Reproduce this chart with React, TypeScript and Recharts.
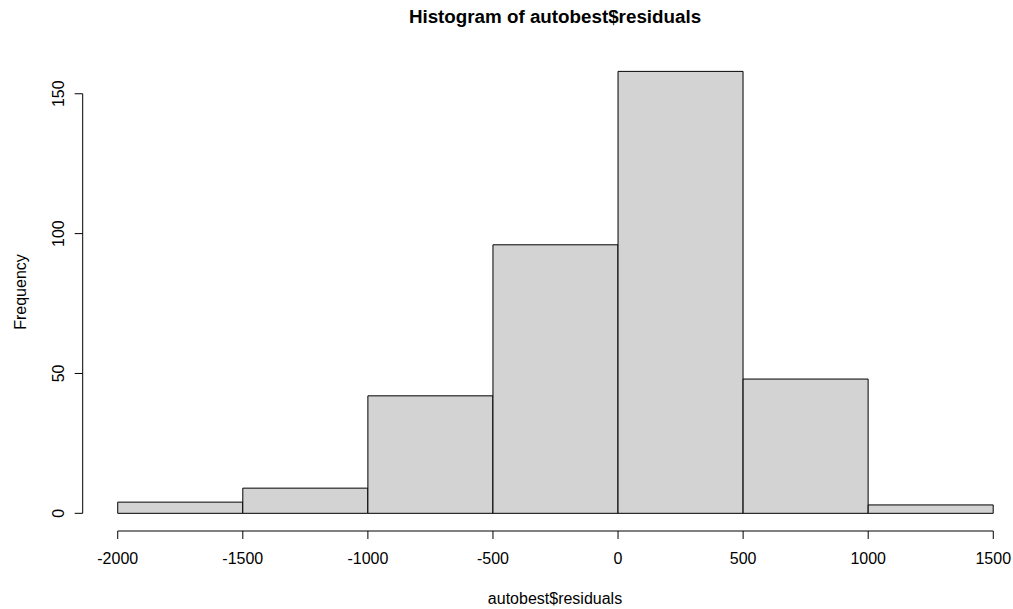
import { Bar, ComposedChart, ReferenceLine, XAxis, YAxis } from "recharts";

const binStarts = [-2000, -1500, -1000, -500, 0, 500, 1000];
const binWidth = 500;
const counts = [4, 9, 42, 96, 158, 48, 3];
const xTicks = [-2000, -1500, -1000, -500, 0, 500, 1000, 1500];
const yTicks = [0, 50, 100, 150];

const title = "Histogram of autobest$residuals";
const xLabel = "autobest$residuals";
const yLabel = "Frequency";

const data = binStarts.map((start, i) => ({
  mid: start + binWidth / 2,
  count: counts[i],
}));

// R pads the plot region by 4% on each side
const xLo = xTicks[0];
const xHi = xTicks[xTicks.length - 1];
const xPad = (xHi - xLo) * 0.04;
const yMax = Math.max(...counts);
const yPad = yMax * 0.04;

const FONT = '"Liberation Sans", Arial, sans-serif';

function XTick({ x, y, payload }: any) {
  return (
    <text x={x} y={y} dy="0.71em" textAnchor="middle" fontSize={16} fontFamily={FONT} fill="#000">
      {payload.value}
    </text>
  );
}

function YTick({ x, y, payload }: any) {
  const bx = x - 11;
  return (
    <text
      x={bx}
      y={y}
      textAnchor="middle"
      transform={`rotate(-90, ${bx}, ${y})`}
      fontSize={16}
      fontFamily={FONT}
      fill="#000"
    >
      {payload.value}
    </text>
  );
}

export default function App() {
  return (
    <div
      style={{
        position: "absolute",
        left: 0,
        top: 0,
        width: 1013,
        height: 609,
        overflow: "hidden",
        background: "#fff",
      }}
    >
      <ComposedChart
        width={1045}
        height={609}
        data={data}
        margin={{ top: 53.7, right: 16.7, bottom: 18, left: 22.7 }}
        barCategoryGap={0}
        barGap={0}
      >
        <XAxis
          dataKey="mid"
          type="number"
          domain={[xLo - xPad, xHi + xPad]}
          ticks={xTicks}
          interval={0}
          height={60}
          axisLine={false}
          tickSize={8}
          tickMargin={14}
          stroke="#000"
          tick={<XTick />}
        />
        <YAxis
          type="number"
          domain={[-yPad, yMax + yPad]}
          ticks={yTicks}
          interval={0}
          width={60}
          axisLine={false}
          tickSize={8}
          tickMargin={0}
          stroke="#000"
          tick={<YTick />}
        />
        <Bar
          dataKey="count"
          fill="#d3d3d3"
          stroke="#000"
          strokeWidth={1}
          isAnimationActive={false}
        />
        <ReferenceLine
          segment={[
            { x: xLo, y: -yPad },
            { x: xHi, y: -yPad },
          ]}
          stroke="#000"
          strokeWidth={1}
          ifOverflow="visible"
        />
        <ReferenceLine
          segment={[
            { x: xLo - xPad, y: yTicks[0] },
            { x: xLo - xPad, y: yTicks[yTicks.length - 1] },
          ]}
          stroke="#000"
          strokeWidth={1}
          ifOverflow="visible"
        />
      </ComposedChart>
      <svg
        width={1013}
        height={609}
        style={{ position: "absolute", left: 0, top: 0, pointerEvents: "none" }}
      >
        <text x={555} y={23} textAnchor="middle" fontSize={18.8} fontWeight="bold" fontFamily={FONT} fill="#000">
          {title}
        </text>
        <text x={555} y={603.5} textAnchor="middle" fontSize={16} fontFamily={FONT} fill="#000">
          {xLabel}
        </text>
        <text
          x={26}
          y={292}
          textAnchor="middle"
          transform="rotate(-90, 26, 292)"
          fontSize={16}
          fontFamily={FONT}
          fill="#000"
        >
          {yLabel}
        </text>
      </svg>
    </div>
  );
}
